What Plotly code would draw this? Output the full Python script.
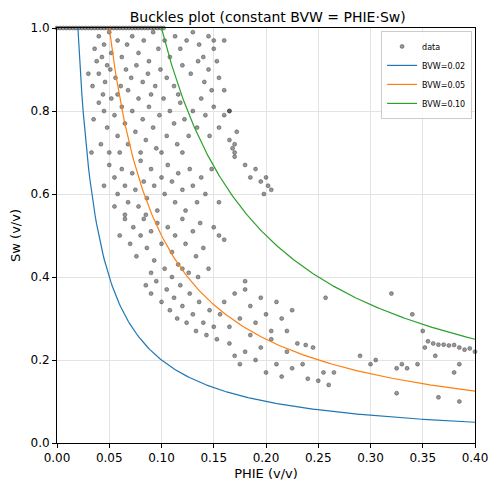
import numpy as np
import plotly.graph_objects as go

# points sitting on the Sw = 1 cap
cap_phie = [0.0, 0.003, 0.006, 0.009, 0.012, 0.015, 0.018, 0.021, 0.024, 0.027, 0.03, 0.033, 0.036,
            0.039, 0.042, 0.045, 0.048, 0.051, 0.054, 0.057, 0.06, 0.063, 0.066, 0.069, 0.072, 0.075,
            0.078, 0.081, 0.084, 0.087, 0.09, 0.093, 0.096, 0.099, 0.102]

pts = [
    # upper band
    (0.040, 0.98), (0.045, 0.96), (0.050, 0.99), (0.036, 0.95), (0.043, 0.93), (0.048, 0.91), (0.052, 0.94),
    (0.058, 0.97), (0.062, 0.93), (0.067, 0.96), (0.072, 0.98), (0.078, 0.94), (0.083, 0.97), (0.088, 0.92),
    (0.092, 0.99), (0.097, 0.95), (0.103, 0.97), (0.108, 0.93), (0.113, 0.98), (0.118, 0.95), (0.124, 0.97),
    (0.130, 0.99), (0.136, 0.96), (0.145, 0.98), (0.150, 0.97), (0.153, 0.92), (0.040, 0.89), (0.046, 0.87),
    (0.051, 0.90), (0.056, 0.88), (0.061, 0.86), (0.066, 0.90), (0.071, 0.88), (0.076, 0.91), (0.082, 0.87),
    (0.087, 0.89), (0.094, 0.86), (0.099, 0.90), (0.105, 0.88), (0.112, 0.86), (0.120, 0.91), (0.128, 0.89),
    (0.135, 0.92), (0.141, 0.87), (0.148, 0.85), (0.030, 0.89), (0.034, 0.86), (0.044, 0.84), (0.038, 0.92),
    (0.058, 0.84), (0.068, 0.85), (0.090, 0.84), (0.116, 0.84),
    (0.140, 0.93), (0.145, 0.90), (0.150, 0.95), (0.155, 0.88), (0.160, 0.85), (0.165, 0.80), (0.160, 0.97),
    (0.172, 0.75), (0.170, 0.72),
    # 0.7 - 0.85
    (0.035, 0.78), (0.040, 0.82), (0.045, 0.80), (0.048, 0.76), (0.052, 0.83), (0.055, 0.79), (0.058, 0.74),
    (0.062, 0.81), (0.065, 0.77), (0.068, 0.72), (0.072, 0.80), (0.075, 0.75), (0.078, 0.83), (0.082, 0.78),
    (0.085, 0.73), (0.088, 0.81), (0.092, 0.76), (0.095, 0.71), (0.098, 0.79), (0.102, 0.83), (0.105, 0.74),
    (0.108, 0.80), (0.112, 0.77), (0.115, 0.72), (0.118, 0.82), (0.122, 0.78), (0.126, 0.74), (0.130, 0.80),
    (0.134, 0.76), (0.138, 0.83), (0.142, 0.79), (0.146, 0.74), (0.150, 0.81), (0.155, 0.76), (0.160, 0.79),
    (0.165, 0.73), (0.168, 0.71), (0.033, 0.70), (0.042, 0.72), (0.050, 0.70), (0.060, 0.70), (0.080, 0.70),
    (0.100, 0.70), (0.120, 0.70), (0.165, 0.80), (0.170, 0.69),
    # 0.55 - 0.7
    (0.045, 0.62), (0.050, 0.67), (0.055, 0.64), (0.058, 0.60), (0.062, 0.66), (0.065, 0.62), (0.068, 0.58),
    (0.072, 0.65), (0.075, 0.61), (0.078, 0.57), (0.080, 0.68), (0.083, 0.63), (0.086, 0.59), (0.090, 0.66),
    (0.093, 0.62), (0.096, 0.56), (0.100, 0.64), (0.103, 0.60), (0.106, 0.67), (0.110, 0.63), (0.113, 0.58),
    (0.116, 0.65), (0.120, 0.61), (0.123, 0.56), (0.127, 0.66), (0.130, 0.62), (0.134, 0.58), (0.138, 0.64),
    (0.142, 0.60), (0.148, 0.66), (0.155, 0.58), (0.180, 0.67), (0.185, 0.64), (0.190, 0.66), (0.195, 0.63),
    (0.200, 0.64), (0.202, 0.62), (0.205, 0.61), (0.198, 0.60), (0.170, 0.70), (0.055, 0.57), (0.065, 0.55),
    (0.085, 0.55),
    # 0.4 - 0.55
    (0.060, 0.50), (0.065, 0.54), (0.070, 0.48), (0.073, 0.52), (0.076, 0.45), (0.080, 0.50), (0.083, 0.54),
    (0.086, 0.47), (0.090, 0.51), (0.093, 0.44), (0.096, 0.53), (0.100, 0.48), (0.103, 0.42), (0.106, 0.52),
    (0.110, 0.46), (0.113, 0.50), (0.116, 0.43), (0.120, 0.54), (0.123, 0.48), (0.126, 0.41), (0.130, 0.51),
    (0.133, 0.45), (0.137, 0.53), (0.140, 0.47), (0.145, 0.42), (0.150, 0.52), (0.155, 0.50), (0.160, 0.49),
    (0.110, 0.40), (0.090, 0.41), (0.135, 0.40), (0.120, 0.42),
    # 0.25 - 0.4
    (0.085, 0.38), (0.090, 0.36), (0.095, 0.39), (0.100, 0.34), (0.105, 0.37), (0.108, 0.32), (0.112, 0.35),
    (0.115, 0.30), (0.118, 0.38), (0.120, 0.33), (0.124, 0.29), (0.127, 0.36), (0.130, 0.31), (0.133, 0.27),
    (0.136, 0.34), (0.140, 0.29), (0.143, 0.26), (0.146, 0.32), (0.150, 0.28), (0.153, 0.25), (0.156, 0.31),
    (0.160, 0.34), (0.165, 0.28), (0.170, 0.36), (0.175, 0.30), (0.180, 0.37), (0.185, 0.33), (0.190, 0.29),
    (0.195, 0.35), (0.200, 0.31), (0.205, 0.27), (0.210, 0.34), (0.215, 0.30), (0.220, 0.27), (0.225, 0.32),
    (0.180, 0.39),
    # low tail
    (0.165, 0.24), (0.170, 0.21), (0.175, 0.19), (0.180, 0.22), (0.185, 0.26), (0.190, 0.20), (0.195, 0.23),
    (0.200, 0.17), (0.205, 0.25), (0.210, 0.19), (0.215, 0.16), (0.220, 0.22), (0.225, 0.18), (0.230, 0.24),
    (0.235, 0.19), (0.240, 0.155), (0.245, 0.23), (0.250, 0.15), (0.255, 0.17), (0.260, 0.14), (0.265, 0.17),
    (0.257, 0.35), (0.238, 0.236),
    # right cluster
    (0.290, 0.21), (0.300, 0.19), (0.305, 0.20), (0.320, 0.36), (0.325, 0.12), (0.330, 0.19), (0.335, 0.18),
    (0.340, 0.31), (0.345, 0.19), (0.350, 0.27), (0.352, 0.23), (0.355, 0.245), (0.360, 0.24), (0.362, 0.21),
    (0.365, 0.237), (0.370, 0.237), (0.375, 0.235), (0.380, 0.236), (0.385, 0.23), (0.390, 0.225),
    (0.395, 0.228), (0.400, 0.22), (0.365, 0.11), (0.385, 0.10), (0.380, 0.17), (0.385, 0.19), (0.325, 0.18),
]

phie = cap_phie + [p[0] for p in pts]
sw = [1.0] * len(cap_phie) + [p[1] for p in pts]

bvw_values = [0.02, 0.05, 0.10]
bvw_colors = ["#1f77b4", "#ff7f0e", "#2ca02c"]

fig = go.Figure()
fig.add_trace(go.Scatter(
    x=phie, y=sw, mode="markers", name="data", cliponaxis=False,
    marker=dict(size=4, color="rgba(50,50,50,0.5)", line=dict(width=0.6, color="rgba(30,30,30,0.6)")),
))
for bvw, color in zip(bvw_values, bvw_colors):
    xs = np.linspace(bvw, 0.4, 300)
    fig.add_trace(go.Scatter(x=xs, y=bvw / xs, mode="lines", name=f"BVW={bvw:.2f}",
                             line=dict(color=color, width=1.2)))

axis_style = dict(showline=True, linecolor="black", linewidth=1, mirror=True, ticks="outside",
                  ticklen=4, tickcolor="black", gridcolor="#e3e3e3", zeroline=False, automargin=False,
                  tickfont=dict(size=12, color="black"))
fig.update_xaxes(range=[0, 0.4], dtick=0.05, tickformat=".2f",
                 title=dict(text="PHIE (v/v)", font=dict(size=13), standoff=4), **axis_style)
fig.update_yaxes(range=[0, 1], dtick=0.2, tickformat=".1f",
                 title=dict(text="Sw (v/v)", font=dict(size=13), standoff=6), **axis_style)
# the page adds an 8px body margin, so the figure is 8px smaller and shifted
fig.update_layout(
    width=490, height=484,
    margin=dict(l=49, r=23, t=20, b=49, autoexpand=False),
    paper_bgcolor="white", plot_bgcolor="white",
    font=dict(family="DejaVu Sans", color="black"),
    title=dict(text="Buckles plot (constant BVW = PHIE·Sw)", x=0.53, xanchor="center",
               y=0.992, yanchor="top", font=dict(size=14)),
    legend=dict(x=0.993, y=0.993, xanchor="right", yanchor="top", bgcolor="rgba(255,255,255,0.85)",
                bordercolor="#cccccc", borderwidth=1, font=dict(size=8), tracegroupgap=0,
                itemwidth=30),
    showlegend=True,
)
fig.write_html("out.html")
